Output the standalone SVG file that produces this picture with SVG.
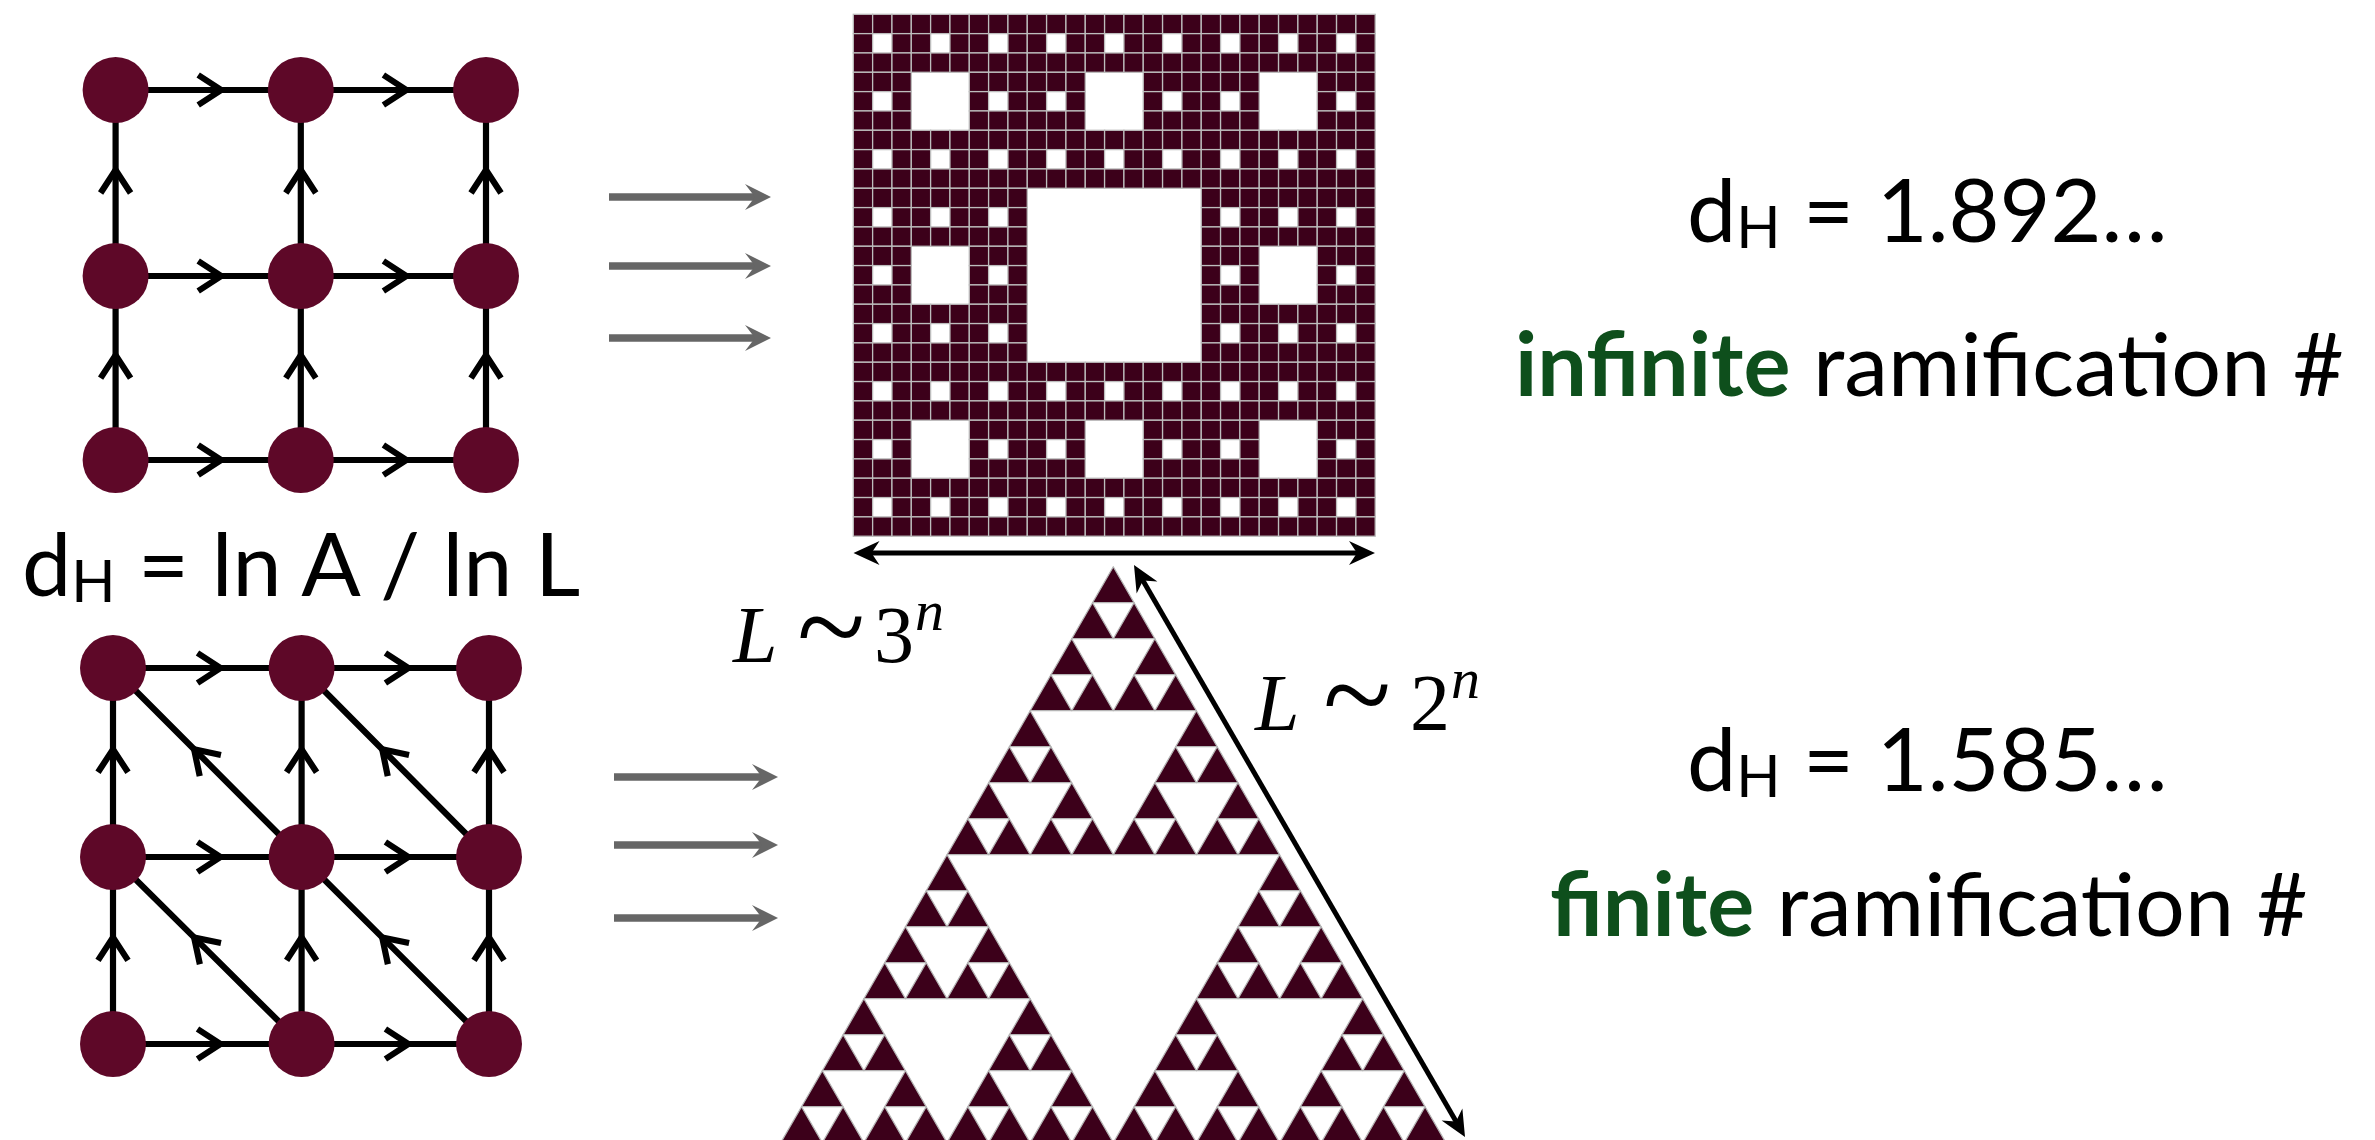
<svg xmlns="http://www.w3.org/2000/svg" xmlns:xlink="http://www.w3.org/1999/xlink" width="2375" height="1140" viewBox="0 0 2375 1140">
<style>
.node{fill:#5e0828}
.edge{stroke:#000;stroke-width:6.2;fill:none;marker-mid:url(#chev)}
.cell{fill:#3c001a;stroke:#bdbdbd;stroke-width:1.3}
.tri{fill:#3c001a;stroke:#b5b5b5;stroke-width:1.3;stroke-linejoin:round}
.garrow{stroke:#666;stroke-width:7.5;fill:none;marker-end:url(#ghead)}
.barrow{stroke:#000;stroke-width:5;fill:none;marker-start:url(#bhead);marker-end:url(#bhead)}
.t{font-family:Lato,'Open Sans',sans-serif;font-size:88px;fill:#000}
.g{fill:#0e4f1c;font-weight:bold}
.m{font-family:'Liberation Serif',serif;font-size:80px;fill:#000}
.sim{font-size:126px}
</style>
<defs>
<marker id="chev" markerUnits="userSpaceOnUse" orient="auto" refX="0" refY="0" markerWidth="60" markerHeight="60" viewBox="-30 -30 60 60" overflow="visible">
<path d="M-23,-15 L0,0 L-23,15" fill="none" stroke="#000" stroke-width="6.2"/>
</marker>
<marker id="ghead" markerUnits="userSpaceOnUse" orient="auto" refX="-15" refY="0" markerWidth="60" markerHeight="60" viewBox="-30 -30 60 60" overflow="visible">
<path d="M0,0 L-26,-13 L-16,0 L-26,13 Z" fill="#666"/>
</marker>
<marker id="bhead" markerUnits="userSpaceOnUse" orient="auto-start-reverse" refX="-10" refY="0" markerWidth="60" markerHeight="60" viewBox="-30 -30 60 60" overflow="visible">
<path d="M0,0 L-26,-12 L-18,0 L-26,12 Z" fill="#000"/>
</marker>
<rect id="c0" class="cell" width="19.33" height="19.33"/>
<g id="c1"><use href="#c0"/><use href="#c0" x="19.33"/><use href="#c0" x="38.66"/><use href="#c0" y="19.33"/><use href="#c0" x="38.66" y="19.33"/><use href="#c0" y="38.66"/><use href="#c0" x="19.33" y="38.66"/><use href="#c0" x="38.66" y="38.66"/></g>
<g id="c2"><use href="#c1"/><use href="#c1" x="57.99"/><use href="#c1" x="115.98"/><use href="#c1" y="57.99"/><use href="#c1" x="115.98" y="57.99"/><use href="#c1" y="115.98"/><use href="#c1" x="57.99" y="115.98"/><use href="#c1" x="115.98" y="115.98"/></g>
<g id="c3"><use href="#c2"/><use href="#c2" x="173.97"/><use href="#c2" x="347.94"/><use href="#c2" y="173.97"/><use href="#c2" x="347.94" y="173.97"/><use href="#c2" y="347.94"/><use href="#c2" x="173.97" y="347.94"/><use href="#c2" x="347.94" y="347.94"/></g>
<polygon id="t0" class="tri" points="0,0 -20.78,36 20.78,36"/>
<g id="t1"><use href="#t0"/><use href="#t0" x="-20.78" y="36"/><use href="#t0" x="20.78" y="36"/></g>
<g id="t2"><use href="#t1"/><use href="#t1" x="-41.57" y="72"/><use href="#t1" x="41.57" y="72"/></g>
<g id="t3"><use href="#t2"/><use href="#t2" x="-83.14" y="144"/><use href="#t2" x="83.14" y="144"/></g>
<g id="t4"><use href="#t3"/><use href="#t3" x="-166.28" y="288"/><use href="#t3" x="166.28" y="288"/></g>
</defs>
<rect width="2375" height="1140" fill="#fff"/>

<g id="connectors">
<path class="edge" d="M115.6,90 L221.2,90 L300.8,90"/>
<path class="edge" d="M300.8,90 L406.4,90 L486,90"/>
<path class="edge" d="M115.6,276 L221.2,276 L300.8,276"/>
<path class="edge" d="M300.8,276 L406.4,276 L486,276"/>
<path class="edge" d="M115.6,460 L221.2,460 L300.8,460"/>
<path class="edge" d="M300.8,460 L406.4,460 L486,460"/>
<path class="edge" d="M115.6,460 L115.6,355.1 L115.6,276"/>
<path class="edge" d="M115.6,276 L115.6,170 L115.6,90"/>
<path class="edge" d="M300.8,460 L300.8,355.1 L300.8,276"/>
<path class="edge" d="M300.8,276 L300.8,170 L300.8,90"/>
<path class="edge" d="M486,460 L486,355.1 L486,276"/>
<path class="edge" d="M486,276 L486,170 L486,90"/>
<path class="edge" d="M113,668 L220.5,668 L301.6,668"/>
<path class="edge" d="M301.6,668 L408.4,668 L489,668"/>
<path class="edge" d="M113,857 L220.5,857 L301.6,857"/>
<path class="edge" d="M301.6,857 L408.4,857 L489,857"/>
<path class="edge" d="M113,1044 L220.5,1044 L301.6,1044"/>
<path class="edge" d="M301.6,1044 L408.4,1044 L489,1044"/>
<path class="edge" d="M113,1044 L113,937.4 L113,857"/>
<path class="edge" d="M113,857 L113,749.3 L113,668"/>
<path class="edge" d="M301.6,1044 L301.6,937.4 L301.6,857"/>
<path class="edge" d="M301.6,857 L301.6,749.3 L301.6,668"/>
<path class="edge" d="M489,1044 L489,937.4 L489,857"/>
<path class="edge" d="M489,857 L489,749.3 L489,668"/>
<path class="edge" d="M301.6,857 L194.1,749.3 L113,668"/>
<path class="edge" d="M489,857 L382.2,749.3 L301.6,668"/>
<path class="edge" d="M301.6,1044 L194.1,937.4 L113,857"/>
<path class="edge" d="M489,1044 L382.2,937.4 L301.6,857"/>
<line class="garrow" x1="609" y1="197" x2="756" y2="197"/>
<line class="garrow" x1="609" y1="266" x2="756" y2="266"/>
<line class="garrow" x1="609" y1="338" x2="756" y2="338"/>
<line class="garrow" x1="614" y1="777" x2="763" y2="777"/>
<line class="garrow" x1="614" y1="845" x2="763" y2="845"/>
<line class="garrow" x1="614" y1="918" x2="763" y2="918"/>
<line class="barrow" x1="863.5" y1="553" x2="1365" y2="553"/>
<line class="barrow" x1="1139" y1="573.7" x2="1460" y2="1128.3"/>
</g>

<g id="lattice-square">
<circle class="node" cx="115.6" cy="90" r="33"/>
<circle class="node" cx="300.8" cy="90" r="33"/>
<circle class="node" cx="486" cy="90" r="33"/>
<circle class="node" cx="115.6" cy="276" r="33"/>
<circle class="node" cx="300.8" cy="276" r="33"/>
<circle class="node" cx="486" cy="276" r="33"/>
<circle class="node" cx="115.6" cy="460" r="33"/>
<circle class="node" cx="300.8" cy="460" r="33"/>
<circle class="node" cx="486" cy="460" r="33"/>
</g>
<g id="lattice-triangular">
<circle class="node" cx="113" cy="668" r="33"/>
<circle class="node" cx="301.6" cy="668" r="33"/>
<circle class="node" cx="489" cy="668" r="33"/>
<circle class="node" cx="113" cy="857" r="33"/>
<circle class="node" cx="301.6" cy="857" r="33"/>
<circle class="node" cx="489" cy="857" r="33"/>
<circle class="node" cx="113" cy="1044" r="33"/>
<circle class="node" cx="301.6" cy="1044" r="33"/>
<circle class="node" cx="489" cy="1044" r="33"/>
</g>

<g id="carpet"><use href="#c3" x="853.3" y="14.3"/></g>
<g id="gasket"><use href="#t4" x="1113.3" y="566.7"/></g>

<g id="formula"><text class="t" x="22" y="596">d<tspan font-size="58" dy="6">H</tspan><tspan dy="-6"> = ln A / ln L</tspan></text></g>

<g id="label-L3"><text class="m" y="662"><tspan x="733" font-style="italic">L</tspan><tspan class="sim" x="797" dy="7">~</tspan><tspan x="874" dy="-7">3</tspan><tspan x="915" font-style="italic" font-size="58" dy="-32">n</tspan></text></g>
<g id="label-L2"><text class="m" y="730"><tspan x="1255" font-style="italic">L</tspan><tspan class="sim" x="1323" dy="7">~</tspan><tspan x="1410" dy="-7">2</tspan><tspan x="1451" font-style="italic" font-size="58" dy="-32">n</tspan></text></g>

<g id="carpet-info">
<text class="t" x="1687" y="242">d<tspan font-size="58" dy="6">H</tspan><tspan dy="-6"> = 1.892…</tspan></text>
<text class="t" x="1515" y="396"><tspan class="g">infinite</tspan> ramification #</text>
</g>
<g id="gasket-info">
<text class="t" x="1687" y="791">d<tspan font-size="58" dy="6">H</tspan><tspan dy="-6"> = 1.585…</tspan></text>
<text class="t" x="1550" y="936"><tspan class="g">finite</tspan> ramification #</text>
</g>
</svg>
